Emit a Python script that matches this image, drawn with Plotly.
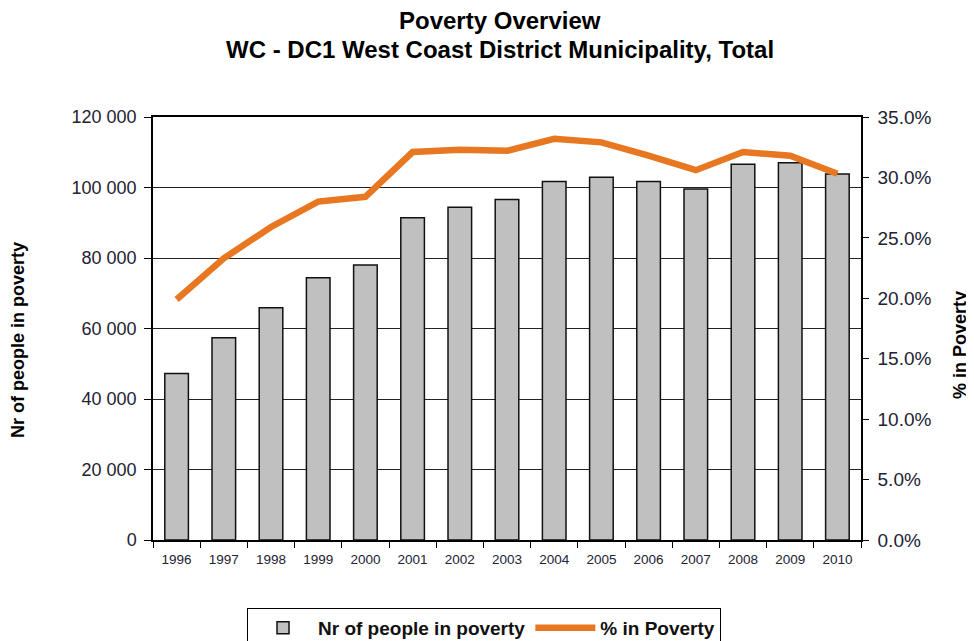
import plotly.graph_objects as go

years = ["1996","1997","1998","1999","2000","2001","2002","2003","2004","2005","2006","2007","2008","2009","2010"]
people = [47200, 57400, 65900, 74400, 78000, 91400, 94400, 96600, 101700, 102900, 101700, 99600, 106600, 107000, 103800]
pct = [19.9, 23.3, 25.9, 28.0, 28.4, 32.1, 32.3, 32.2, 33.2, 32.9, 31.8, 30.6, 32.1, 31.8, 30.3]

left_ticks = [0, 20000, 40000, 60000, 80000, 100000, 120000]
left_labels = ["0", "20 000", "40 000", "60 000", "80 000", "100 000", "120 000"]
right_ticks = [0, 5, 10, 15, 20, 25, 30, 35]
right_labels = ["0.0%", "5.0%", "10.0%", "15.0%", "20.0%", "25.0%", "30.0%", "35.0%"]

title_lines = ["Poverty Overview", "WC - DC1 West Coast District Municipality, Total"]
left_title = "Nr of people in poverty"
right_title = "% in Poverty"

font = "Liberation Sans, Arial, sans-serif"
tick_col = "#222233"

# page has an 8px body margin; figure is laid out in its own coordinates
W, H = 966, 633
PL, PR, PT, PB = 145, 853, 109, 532
ph = PB - PT
pw = PR - PL

fig = go.Figure()
fig.add_trace(go.Bar(
    x=years, y=people, name="<b>Nr of people in poverty</b>",
    marker=dict(color="#C0C0C0", line=dict(color="#111111", width=1.5)),
    width=0.5,
))
fig.add_trace(go.Scatter(
    x=years, y=pct, name="<b>% in Poverty</b>", yaxis="y2", mode="lines",
    line=dict(color="#E87722", width=6.5),
))

annotations = [
    dict(text="<b>%s</b>" % title_lines[0], xref="paper", yref="paper",
         x=(492 - PL) / pw, y=1 + 97 / ph, xanchor="center", yanchor="middle",
         showarrow=False, font=dict(size=24, color="#000000")),
    dict(text="<b>%s</b>" % title_lines[1], xref="paper", yref="paper",
         x=(492 - PL) / pw, y=1 + 67 / ph, xanchor="center", yanchor="middle",
         showarrow=False, font=dict(size=24, color="#000000")),
    dict(text="<b>%s</b>" % left_title, xref="paper", yref="paper",
         x=(10 - PL) / pw, y=(PB - 332) / ph, xanchor="center", yanchor="middle",
         textangle=-90, showarrow=False, font=dict(size=18, color="#000000")),
    dict(text="<b>%s</b>" % right_title, xref="paper", yref="paper",
         x=(952 - PL) / pw, y=(PB - 337) / ph, xanchor="center", yanchor="middle",
         textangle=-90, showarrow=False, font=dict(size=18, color="#000000")),
]

fig.update_layout(
    width=W, height=H,
    margin=dict(l=PL, r=W - PR, t=PT, b=H - PB, autoexpand=False),
    paper_bgcolor="white", plot_bgcolor="white",
    font=dict(family=font, color="#111111"),
    annotations=annotations,
    xaxis=dict(
        type="category", showline=True, linecolor="#000000", linewidth=1.5,
        mirror=True, ticks="outside", tickson="boundaries", ticklen=6,
        tickcolor="#000000", tickfont=dict(size=13.5, color=tick_col), showgrid=False,
        ticklabelstandoff=6, automargin=False,
    ),
    yaxis=dict(
        range=[0, 120000], tickvals=left_ticks, ticktext=left_labels,
        showline=True, linecolor="#000000", linewidth=1.5,
        ticks="outside", ticklen=7, tickcolor="#000000",
        showgrid=True, gridcolor="#222222", gridwidth=1,
        tickfont=dict(size=18, color=tick_col), zeroline=False,
        ticklabelstandoff=4, automargin=False,
    ),
    yaxis2=dict(
        range=[0, 35], tickvals=right_ticks, ticktext=right_labels,
        overlaying="y", side="right", showline=True, linecolor="#000000",
        linewidth=1.5, ticks="outside", ticklen=6, tickcolor="#000000",
        showgrid=False, zeroline=False, tickfont=dict(size=19, color=tick_col),
        ticklabelstandoff=5, automargin=False,
    ),
    legend=dict(
        orientation="h", x=476 / W, xanchor="center", xref="container",
        y=1 - 600 / H, yanchor="top", yref="container",
        bordercolor="#000000", borderwidth=1, font=dict(size=19, color="#111111"),
        itemwidth=60, traceorder="normal",
    ),
    showlegend=True,
)

fig.write_html("out.html")
